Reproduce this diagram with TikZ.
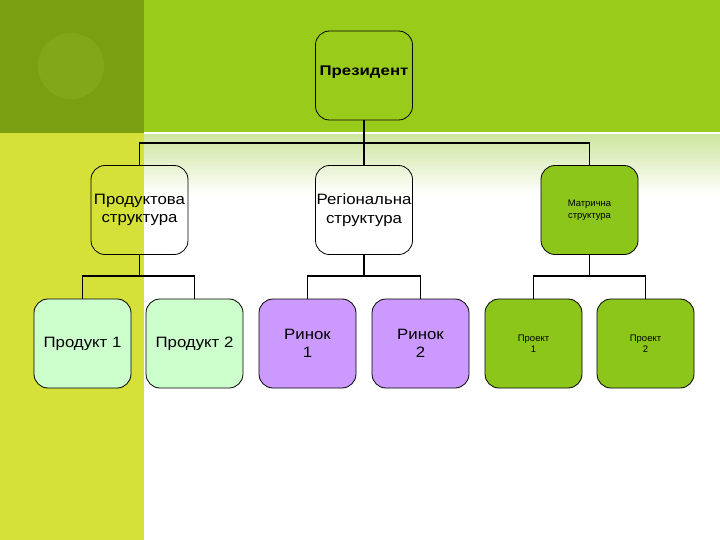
\documentclass[tikz,border=0pt]{standalone}
\usepackage{fontspec}
\setmainfont{Liberation Sans}
\definecolor{olive}{RGB}{122,160,18}
\definecolor{olivering}{RGB}{128,168,24}
\definecolor{band}{RGB}{153,204,26}
\definecolor{lime}{RGB}{213,224,56}
\definecolor{fade}{RGB}{206,230,160}
\definecolor{matgreen}{RGB}{141,198,26}
\definecolor{prodfill}{RGB}{204,255,204}
\definecolor{marketfill}{RGB}{204,153,255}
\begin{document}
\begin{tikzpicture}[
  x=1pt, y=-1pt,
  unit/.style={rectangle, rounded corners=14pt, draw, line width=0.8pt, minimum width=97pt, minimum height=89pt, align=center, inner sep=1pt},
  top/.style={unit, fill=band, font=\fontsize{14}{16}\selectfont\bfseries\addfontfeature{FakeStretch=1.2}},
  mid/.style={unit, text width=95pt, font=\fontsize{15}{18.5}\selectfont\addfontfeature{FakeStretch=1.12}},
  leaf/.style={unit, font=\fontsize{15}{18}\selectfont\addfontfeature{FakeStretch=1.12}},
  tiny/.style={font=\fontsize{9.5}{11.5}\selectfont},
  conn/.style={line width=1.6pt},
]
  % background
  \useasboundingbox (0,0) rectangle (720,540);
  \fill[white] (0,0) rectangle (720,540);
  \fill[band] (144,0) rectangle (720,132);
  \fill[olive] (0,0) rectangle (144,133);
  \fill[olivering] (71,66) circle (33);
  \fill[lime] (0,133) rectangle (144,540);
  \shade[top color=fade, bottom color=white] (144,135) rectangle (720,195);

  % top level
  \node[top] (pres) at (364,75.5) {\raisebox{10pt}{Президент}};

  % second level
  \node[mid] (prod) at (139.5,210) {Продуктова\\структура};
  \node[mid] (reg) at (364,210) {Регіональна\\структура};
  \node[unit, tiny, fill=matgreen] (matr) at (589.5,210) {Матрична\\структура};

  % third level
  \node[leaf, fill=prodfill] (p1) at (82.5,343.5) {Продукт 1};
  \node[leaf, fill=prodfill] (p2) at (194.5,343.5) {Продукт 2};
  \node[leaf, fill=marketfill] (m1) at (307.5,343.5) {Ринок\\1};
  \node[leaf, fill=marketfill] (m2) at (420.5,343.5) {Ринок\\2};
  \node[unit, tiny, fill=matgreen] (k1) at (533.5,343.5) {Проект\\1};
  \node[unit, tiny, fill=matgreen] (k2) at (645.5,343.5) {Проект\\2};

  \coordinate (j0) at (364,143);
  \coordinate (j1) at (139.5,276);
  \coordinate (j2) at (364,276);
  \coordinate (j3) at (589.5,276);

  \draw[conn] (pres.south) -- (j0);
  \draw[conn] (prod.north) |- (j0) -| (matr.north);
  \draw[conn] (j0) -- (reg.north);

  \draw[conn] (prod.south) -- (j1);
  \draw[conn] (p1.north) |- (j1) -| (p2.north);
  \draw[conn] (reg.south) -- (j2);
  \draw[conn] (m1.north) |- (j2) -| (m2.north);
  \draw[conn] (matr.south) -- (j3);
  \draw[conn] (k1.north) |- (j3) -| (k2.north);
\end{tikzpicture}
\end{document}
